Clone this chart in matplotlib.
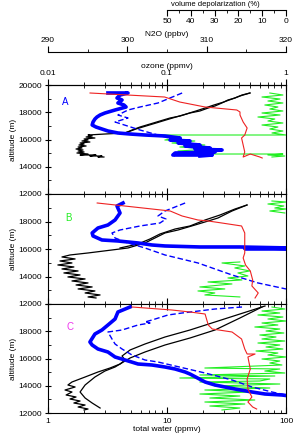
import matplotlib
matplotlib.use("Agg")
import matplotlib.pyplot as plt
import matplotlib.ticker as ticker

plt.rcParams["font.family"] = ["Liberation Sans", "DejaVu Sans"]
plt.rcParams["font.size"] = 6

BLUE, RED, GREEN, MAGENTA = "#0000ff", "#ee2222", "#22ee22", "#ee33ee"

# ---------------- panel A ----------------
a_h2o1 = [2.95, 2.63, 2.84, 2.25, 2.53, 1.86, 2.17, 1.75, 2.01, 1.79, 1.97, 1.72, 1.93, 1.79, 2.09,
          1.82, 2.01, 1.86, 2.25, 1.93, 2.17, 2.01, 2.48, 2.09, 2.35, 2.17, 3.01, 4.44, 5.08, 5.93,
          7.20, 8.73, 10.6, 12.9, 15.6, 18.9, 22.2, 25.3, 28.9, 32.5, 37.3, 42.7, 49.8]
a_h2o1_z = [14715, 14715, 14789, 14789, 14862, 14862, 14935, 15009, 15082, 15156, 15229, 15302, 15376,
            15449, 15523, 15596, 15669, 15743, 15816, 15890, 15963, 16036, 16110, 16183, 16257, 16330,
            16403, 16477, 16697, 16917, 17137, 17358, 17578, 17725, 17945, 18092, 18312, 18459, 18679,
            18899, 19046, 19266, 19413]
a_h2o2 = [49.8, 41.0, 35.2, 30.0, 24.8, 20.9, 17.5, 14.5, 11.9, 9.8, 8.1, 6.67, 5.49, 4.7, 4.03]
a_h2o2_z = [19413, 19193, 18972, 18752, 18532, 18312, 18092, 17871, 17651, 17431, 17211, 16991,
            16770, 16550, 16403]
a_o3 = [0.0319, 0.047, 0.0403, 0.038, 0.0419, 0.0387, 0.0435, 0.0453, 0.0366, 0.0301, 0.0274, 0.0258,
        0.0248, 0.0239, 0.0235, 0.0253, 0.0284, 0.0319, 0.0387, 0.0489, 0.0653, 0.0962, 0.129, 0.106,
        0.156, 0.124, 0.189, 0.142, 0.230, 0.172, 0.290, 0.209, 0.253, 0.117, 0.112, 0.172, 0.240, 0.189]
a_o3_z = [19413, 19413, 19266, 19046, 18899, 18679, 18532, 18385, 18165, 17945, 17798, 17651, 17504,
          17284, 17064, 16917, 16770, 16624, 16477, 16403, 16330, 16257, 16110, 15963, 15890, 15743,
          15596, 15523, 15376, 15302, 15229, 15156, 15082, 15009, 14862, 14862, 14862, 14789]
a_o3b = [0.134, 0.106, 0.084, 0.0593, 0.047, 0.0387, 0.047, 0.0366, 0.0593, 0.0962, 0.142, 0.209, 0.253]
a_o3b_z = [19413, 19046, 18679, 18385, 18165, 17798, 17578, 17284, 16697, 16183, 15743, 15376, 15009]
a_n2o = [295.3, 304.7, 306.6, 309.8, 313.8, 314.2, 314.2, 314.6, 315.1, 314.8, 314.4, 314.6, 314.8,
         314.6, 315.5, 316.7, 317.0]
a_n2o_z = [19413, 19119, 18752, 18385, 18165, 18018, 17798, 17284, 16844, 16330, 16110, 15596, 15082,
           14715, 14935, 14715, 14642]
a_dep = [6.8, 1.3, 10.1, 2.5, 7.6, 1.3, 8.9, 3.4, 6.8, 1.3, 10.1, 2.5, 11.8, 4.7, 7.6, 1.3, 10.1, 3.4,
         6.8, 1.3, 5.9, 0, 53.0, 46.7, 50.9, 38.3, 47.9, 34.1, 44.6, 32.0, 45.4, 42.0, 1.3, 7.6, 0.5, 5.9]
a_dep_z = [19413, 19266, 19119, 18972, 18825, 18679, 18532, 18385, 18238, 18092, 17945, 17798, 17651,
           17504, 17358, 17211, 17064, 16917, 16770, 16624, 16477, 16330, 16330, 16110, 15963, 15890,
           15743, 15596, 15449, 15302, 15156, 14935, 14935, 14862, 14789, 14715]

# ---------------- panel B ----------------
b_h2o1 = [2.53, 2.17, 2.74, 2.05, 2.48, 1.79, 2.35, 1.72, 2.17, 1.59, 2.05, 1.47, 1.86, 1.36, 1.79,
          1.31, 1.65, 1.21, 1.59, 1.26, 1.69, 1.31, 1.53, 2.17, 3.45, 4.70, 6.53, 9.62, 12.4, 17.2,
          22.2, 26.8, 35.2, 47.0]
b_h2o1_z = [12439, 12511, 12657, 12802, 12948, 13094, 13239, 13384, 13530, 13675, 13821, 13966, 14111,
            14257, 14402, 14548, 14693, 14838, 14984, 15129, 15275, 15420, 15565, 15711, 15929, 16074,
            16438, 17165, 17383, 17746, 18037, 18255, 18764, 19200]
b_h2o2 = [47.0, 37.3, 27.9, 20.9, 15.6, 11.7, 8.73, 7.20, 5.71, 4.03]
b_h2o2_z = [19200, 18910, 18473, 18110, 17674, 17455, 17092, 16729, 16365, 16074]
b_o3 = [0.0427, 0.038, 0.0403, 0.0366, 0.0319, 0.0263, 0.0235, 0.0239, 0.0284, 0.0387, 0.0571, 0.0748,
        0.0962, 0.189, 0.41, 1.08, 0.45, 1.1]
b_o3_z = [19346, 19128, 18619, 18110, 17746, 17528, 17165, 16947, 16656, 16583, 16438, 16292, 16220,
          16147, 16147, 16074, 16030, 15985]
b_o3b = [0.142, 0.117, 0.0962, 0.084, 0.098, 0.0873, 0.0593, 0.0403, 0.0345, 0.0366, 0.047, 0.0653,
         0.0962, 0.182, 0.352, 0.582, 1.0]
b_o3b_z = [19346, 19055, 18764, 18401, 18183, 17892, 17674, 17383, 17165, 16801, 16438, 16074, 15565,
           14984, 14111, 13530, 13094]
b_n2o = [296.2, 305.4, 306.9, 308.9, 310.2, 311.9, 314.4, 314.8, 314.8, 314.6, 314.9, 315.5, 315.8,
         315.7, 316.5, 316.1]
b_n2o_z = [19346, 18764, 18401, 18110, 18037, 17892, 17674, 17165, 15711, 15347, 14838, 14402, 13748,
           13312, 12802, 12439]
b_dep1 = [5.9, 0, 7.6, 0.9, 4.7, 0, 6.8, 0.5]
b_dep1_z = [19491, 19418, 19273, 19128, 18982, 18910, 18764, 18619]
b_dep2 = [19.4, 26.9, 17.3, 21.5, 15.2, 20.2, 16.0, 24.4, 18.5, 32.8, 22.7, 36.2, 25.7, 37.0, 29.9,
          34.1, 19.4]
b_dep2_z = [15056, 14984, 14766, 14620, 14402, 14257, 14039, 13893, 13748, 13602, 13457, 13239, 13094,
            12948, 12802, 12657, 12512]

# ---------------- panel C ----------------
c_h2o1 = [66.6, 41.0, 25.3, 15.6, 9.62, 6.53, 4.89, 4.19, 4.44, 4.03, 3.32, 2.63, 2.05, 1.59, 1.47,
          1.69, 1.39, 1.59, 1.42, 1.72, 1.53, 1.86, 1.65, 2.05, 1.79, 2.17, 2.01]
c_h2o1_z = [19853, 19266, 18679, 18092, 17578, 17064, 16624, 16183, 15890, 15596, 15302, 15009, 14642,
            14275, 14055, 13908, 13688, 13541, 13321, 13174, 13027, 12880, 12733, 12587, 12440, 12293,
            12220]
c_h2o2 = [62.8, 41.0, 25.3, 15.6, 9.62, 6.53, 4.89, 4.03, 3.66, 3.01, 2.48, 2.05, 1.86, 2.05, 2.35, 2.74]
c_h2o2_z = [19780, 18972, 18092, 17504, 16991, 16477, 16036, 15596, 15376, 15082, 14642, 14055, 13541,
            13100, 12733, 12366]
c_o3 = [0.0489, 0.0387, 0.0366, 0.0319, 0.0284, 0.0248, 0.0225, 0.0235, 0.0263, 0.0319, 0.0366, 0.0444,
        0.0571, 0.0748, 0.0962, 0.117, 0.142, 0.156, 0.209, 0.253, 0.373, 0.518, 0.666, 0.925, 1.08]
c_o3_z = [19780, 19413, 18899, 18459, 18092, 17798, 17211, 16991, 16697, 16477, 16110, 15890, 15596,
          15523, 15376, 15229, 15009, 14862, 14275, 14055, 13761, 13541, 13394, 13321, 13247]
c_o3b = [0.427, 0.253, 0.134, 0.102, 0.0748, 0.0653, 0.072, 0.0571, 0.0419, 0.0319, 0.0345, 0.0366,
         0.0419, 0.0508, 0.0653, 0.084, 0.117, 0.209, 0.352, 0.518, 0.763, 1.0]
c_o3b_z = [19780, 19633, 19339, 19193, 18826, 18679, 18605, 18459, 18092, 17945, 17431, 17064, 16697,
           16257, 15890, 15743, 15449, 14935, 14422, 13908, 13541, 13321]
c_n2o = [300.6, 305.6, 307.9, 309.8, 310.2, 310.7, 313.2, 314.4, 314.8, 315.1, 316.1, 315.2, 315.5,
         315.1, 315.2, 315.7, 315.2, 315.8, 316.3]
c_n2o_z = [19780, 19560, 19413, 19266, 18459, 18165, 17945, 17431, 16697, 16330, 16330, 16110, 15229,
           14495, 13761, 13174, 12807, 12440, 12293]
c_dep = [5.9, 0.5, 10.1, 2.6, 11.8, 1.3, 7.6, 0, 10.1, 3.4, 13.1, 2.6, 8.4, 0.9, 11.0, 4.2, 10.1, 0.5,
         11.8, 2.6, 8.4, 1.3, 12.6, 3.4, 7.6, 0, 10.1, 2.6, 6.8, 1.7, 34.1, 2.6, 8.9, 0.5, 36.2, 4.7,
         44.6, 6.8, 11.0, 36.2, 2.6, 29.9, 6.8, 34.1, 15.2, 36.2, 19.4, 32.0, 13.1, 34.1, 17.3, 32.0,
         19.4, 26.9]
c_dep_z = [19780, 19633, 19486, 19339, 19193, 19046, 18899, 18752, 18605, 18459, 18312, 18165, 18018,
           17871, 17725, 17578, 17431, 17284, 17137, 16991, 16844, 16697, 16550, 16403, 16257, 16110,
           15963, 15816, 15669, 15523, 15302, 15229, 15082, 14935, 14789, 14715, 14569, 14495, 14349,
           14275, 14128, 13981, 13835, 13688, 13541, 13394, 13247, 13100, 12954, 12807, 12660, 12513,
           12366, 12220]

panels = [
    dict(h2o=[(a_h2o1, a_h2o1_z), (a_h2o2, a_h2o2_z)], o3=(a_o3, a_o3_z), o3b=(a_o3b, a_o3b_z),
         n2o=(a_n2o, a_n2o_z), dep=[(a_dep, a_dep_z)], tag="A", tagc=BLUE),
    dict(h2o=[(b_h2o1, b_h2o1_z), (b_h2o2, b_h2o2_z)], o3=(b_o3, b_o3_z), o3b=(b_o3b, b_o3b_z),
         n2o=(b_n2o, b_n2o_z), dep=[(b_dep1, b_dep1_z), (b_dep2, b_dep2_z)], tag="B", tagc=GREEN),
    dict(h2o=[(c_h2o1, c_h2o1_z), (c_h2o2, c_h2o2_z)], o3=(c_o3, c_o3_z), o3b=(c_o3b, c_o3b_z),
         n2o=(c_n2o, c_n2o_z), dep=[(c_dep, c_dep_z)], tag="C", tagc=MAGENTA),
]

W, H = 293, 441
fig = plt.figure(figsize=(W / 100, H / 100), dpi=100)
L, R = 48 / W, 286 / W
rows = [(85, 194), (194, 304), (304, 413)]
tag_pos = [(0.071, 0.844), (0.084, 0.78), (0.092, 0.79)]
num = ticker.FuncFormatter(lambda v, _: f"{v:g}")


def hide(tw):
    for s in tw.spines.values():
        s.set_visible(False)
    tw.xaxis.set_visible(False)


for i, (p, (t, b)) in enumerate(zip(panels, rows)):
    ax = fig.add_axes([L, 1 - b / H, R - L, (b - t) / H])
    ax.set_xscale("log")
    ax.set_xlim(1, 100)
    ax.set_ylim(12000, 20000)

    tdep = ax.twiny()
    tdep.set_xlim(100, 0)
    to3 = ax.twiny()
    to3.set_xscale("log")
    to3.set_xlim(0.01, 1)
    tn2o = ax.twiny()
    tn2o.set_xlim(290, 320)

    for d, z in p["dep"]:
        tdep.plot(d, z, color=GREEN, lw=0.8)
    for w, z in p["h2o"]:
        ax.plot(w, z, color="black", lw=0.9)
    to3.plot(*p["o3"], color=BLUE, lw=2.6)
    to3.plot(*p["o3b"], color=BLUE, lw=1.0, ls=(0, (4, 2)))
    tn2o.plot(*p["n2o"], color=RED, lw=0.8)

    hide(tdep)
    if i == 0:
        for s in ("left", "right", "bottom"):
            to3.spines[s].set_visible(False)
            tn2o.spines[s].set_visible(False)
        to3.xaxis.set_major_formatter(num)
        to3.tick_params(axis="x", which="major", direction="out", length=4, pad=1.5)
        to3.tick_params(axis="x", which="minor", direction="out", length=2.5, labeltop=False)
        to3.set_xlabel("ozone (ppmv)", labelpad=2)
        tn2o.spines["top"].set_position(("outward", 33 * 0.72))
        tn2o.xaxis.set_major_locator(ticker.MultipleLocator(10))
        tn2o.xaxis.set_minor_locator(ticker.MultipleLocator(5))
        tn2o.tick_params(axis="x", which="major", direction="out", length=4, pad=1.5)
        tn2o.tick_params(axis="x", which="minor", direction="out", length=2.5)
        tn2o.set_xlabel("N2O (ppbv)", labelpad=1)
    else:
        hide(to3)
        hide(tn2o)

    ax.tick_params(axis="x", which="both", direction="in", top=True, bottom=True,
                   labelbottom=(i == 2), labeltop=False)
    ax.tick_params(axis="x", which="major", length=4)
    ax.tick_params(axis="x", which="minor", length=2)
    ax.xaxis.set_major_formatter(num)
    ax.yaxis.set_major_locator(ticker.MultipleLocator(2000))
    ax.yaxis.set_minor_locator(ticker.MultipleLocator(1000))
    ax.tick_params(axis="y", which="major", direction="inout", length=5, pad=1.5)
    ax.tick_params(axis="y", which="minor", direction="in", length=2.5)
    top_ok = (i == 0)
    ax.yaxis.set_major_formatter(ticker.FuncFormatter(
        lambda v, _, top_ok=top_ok: "" if (v >= 20000 and not top_ok) else f"{int(v)}"))
    ax.set_ylabel("altitude (m)", labelpad=1)
    ax.text(*tag_pos[i], p["tag"], color=p["tagc"], fontsize=7, ha="center", va="center",
            transform=ax.transAxes)
    if i == 2:
        ax.set_xlabel("total water (ppmv)", labelpad=1)

# volume depolarization scale (top)
dax = fig.add_axes([L, 1 - 10 / H, R - L, 0.0005])
dax.set_xlim(100, 0)
dax.patch.set_visible(False)
for s in ("left", "right", "top"):
    dax.spines[s].set_visible(False)
dax.spines["bottom"].set_bounds(0, 50)
dax.set_yticks([])
dax.set_xticks([50, 40, 30, 20, 10, 0])
dax.set_xticks([45, 35, 25, 15, 5], minor=True)
dax.tick_params(axis="x", which="major", direction="out", length=4, pad=1.5)
dax.tick_params(axis="x", which="minor", direction="out", length=2.5)
fig.text(215 / W, 1 - 1 / H, "volume depolarization (%)", ha="center", va="top", fontsize=5.5)

fig.savefig("out.png", dpi=100)
